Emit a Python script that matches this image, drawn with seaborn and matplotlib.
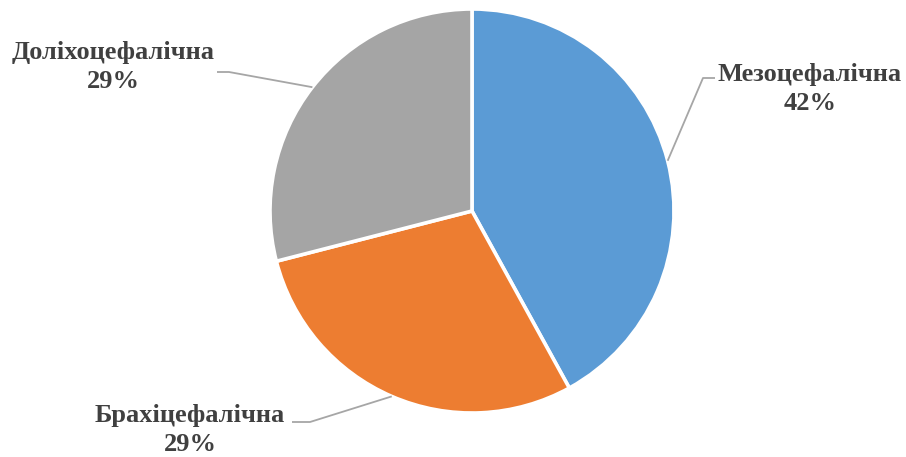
import numpy as np
import matplotlib
matplotlib.use("Agg")
import matplotlib.pyplot as plt
import seaborn as sns

# Cephalic index distribution
categories = ["Мезоцефалічна", "Брахіцефалічна", "Доліхоцефалічна"]
shares = [42, 29, 29]
colors = ["#5B9BD5", "#ED7D31", "#A5A5A5"]

sns.set_theme(style="white")
plt.rcParams["font.family"] = ["Liberation Serif", "DejaVu Serif"]

W, H = 906, 457
fig = plt.figure(figsize=(W / 100, H / 100), dpi=100)
ax = fig.add_axes([0, 0, 1, 1])

cx, cy, r = 472, H - 211, 202
wedges, _ = ax.pie(
    shares, colors=colors, startangle=90, counterclock=False,
    center=(cx, cy), radius=r, frame=True,
    wedgeprops=dict(edgecolor="white", linewidth=2.6),
)
ax.set_xlim(0, W)
ax.set_ylim(0, H)
ax.set_aspect("equal")
ax.set_axis_off()

# label text centre, elbow point and line end (pixels from top-left)
layout = [
    dict(text=(810, 89), elbow=(703, 78), end=(715, 78)),
    dict(text=(190, 430), elbow=(310, 422), end=(292, 422)),
    dict(text=(113, 67), elbow=(229, 72), end=(217, 72)),
]

for w, cat, val, lay in zip(wedges, categories, shares, layout):
    mid = np.deg2rad((w.theta1 + w.theta2) / 2)
    sx, sy = cx + r * np.cos(mid), cy + r * np.sin(mid)
    ex, ey = lay["elbow"]
    tx, ty = lay["end"]
    ax.plot([sx, ex, tx], [sy, H - ey, H - ty], color="#A6A6A6", lw=1.3,
            solid_capstyle="butt")
    ax.text(lay["text"][0], H - lay["text"][1], f"{cat}\n{val}%",
            ha="center", va="center", fontsize=19, fontweight="bold",
            color="#404040", linespacing=1.38)

fig.savefig("out.png", dpi=100, facecolor="white")
